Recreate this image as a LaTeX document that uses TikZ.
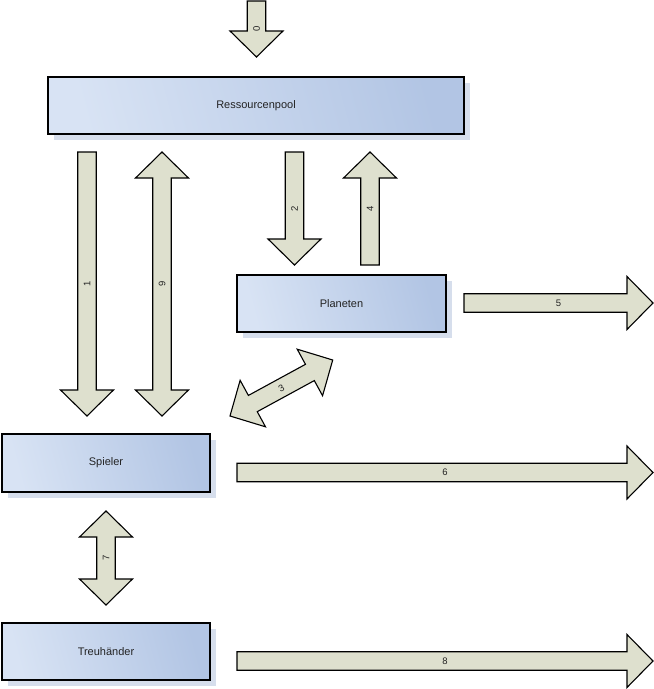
\documentclass[tikz,border=0pt]{standalone}
\usepackage{fontspec}
\setmainfont{Liberation Sans}
\definecolor{arrowfill}{RGB}{222,224,206}
\definecolor{boxlight}{RGB}{216,227,244}
\definecolor{boxdark}{RGB}{178,197,228}
\definecolor{shadowcol}{RGB}{214,222,236}
\definecolor{txt}{RGB}{35,35,35}
\tikzset{
  arrowshape/.style={draw=black, line width=1.1pt, fill=arrowfill, line join=miter},
  numlabel/.style={font=\fontsize{9.5}{10}\selectfont, text=txt, inner sep=0pt},
  boxlabel/.style={font=\fontsize{11}{12}\selectfont, text=txt},
  shadowbox/.style={fill=shadowcol, draw=none},
  mainbox/.style={draw=black, line width=2.4pt, left color=boxlight, right color=boxdark, shading angle=105}
}
% single arrow: #1 name, #2 x, #3 y (tail), #4 angle, #5 length, #6 label, #7 label rotation
\newcommand\blkarrow[7]{%
  \begin{scope}[shift={(#2,#3)}, rotate=#4]
    \draw[arrowshape] (0,-9.25) -- (#5-26,-9.25) -- (#5-26,-26.5) -- (#5,0)
      -- (#5-26,26.5) -- (#5-26,9.25) -- (0,9.25) -- cycle;
    \node[numlabel, rotate=#7] (#1) at (#5/2,0) {#6};
  \end{scope}}
% double arrow
\newcommand\dblarrow[7]{%
  \begin{scope}[shift={(#2,#3)}, rotate=#4]
    \draw[arrowshape] (26,-9.25) -- (#5-26,-9.25) -- (#5-26,-26.5) -- (#5,0)
      -- (#5-26,26.5) -- (#5-26,9.25) -- (26,9.25) -- (26,26.5) -- (0,0)
      -- (26,-26.5) -- cycle;
    \node[numlabel, rotate=#7] (#1) at (#5/2,0) {#6};
  \end{scope}}
% box: #1 name, #2 x1, #3 y1, #4 x2, #5 y2, #6 text
\newcommand\mybox[6]{%
  \fill[shadowbox] (#2+6,#3+6) rectangle (#4+6,#5+6);
  \draw[mainbox] (#2,#3) rectangle (#4,#5);
  \node[boxlabel] (#1) at ({(#2+#4)/2},{(#3+#5)/2}) {#6};}
\begin{document}
\begin{tikzpicture}[x=1pt,y=-1pt]
  \useasboundingbox (0,0) rectangle (654,689);
  \fill[white] (0,0) rectangle (654,689);

  \mybox{pool}{48}{77}{464}{134}{Ressourcenpool}
  \mybox{planeten}{237}{275}{446}{332}{Planeten}
  \mybox{spieler}{2}{434}{210}{492}{Spieler}
  \mybox{treu}{2}{623}{210}{680}{Treuhänder}

  \blkarrow{l0}{256.5}{1}{-90}{56}{0}{90}
  \blkarrow{l1}{87}{152}{-90}{264}{1}{90}
  \dblarrow{l9}{162}{152}{-90}{264}{9}{90}
  \blkarrow{l2}{294.5}{152}{-90}{113}{2}{90}
  \blkarrow{l4}{370}{265}{90}{113}{4}{90}
  \blkarrow{l5}{464}{303}{0}{189}{5}{0}
  \dblarrow{l3}{230}{416}{28.6}{117}{3}{28.6}
  \blkarrow{l6}{237}{472.5}{0}{416}{6}{0}
  \dblarrow{l7}{106}{511}{-90}{94}{7}{90}
  \blkarrow{l8}{237}{661}{0}{416}{8}{0}
\end{tikzpicture}
\end{document}
